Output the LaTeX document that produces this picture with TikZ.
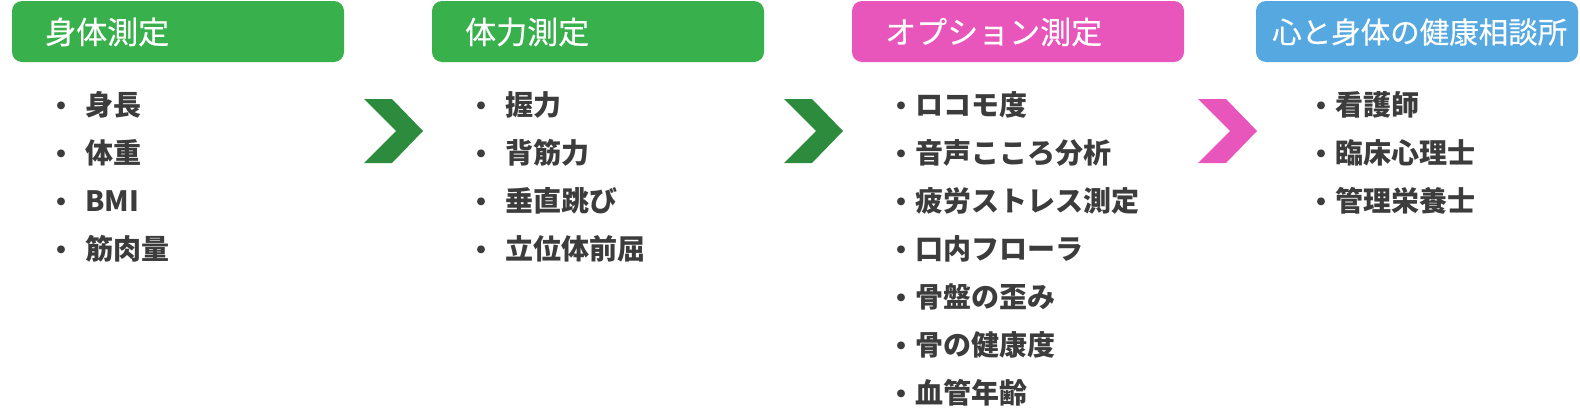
\documentclass[tikz,border=0pt]{standalone}
\usepackage{fontspec}
\setmainfont{Noto Sans CJK JP}
\newfontfamily\hdfont{Noto Sans CJK JP}[FakeBold=0.4]
\usetikzlibrary{positioning}
\definecolor{hdgreen}{RGB}{56,176,76}
\definecolor{chgreen}{RGB}{45,139,61}
\definecolor{hdpink}{RGB}{232,86,188}
\definecolor{hdblue}{RGB}{86,169,224}
\definecolor{txt}{RGB}{60,60,60}
\tikzset{
  hdtext/.style={text=white, inner sep=0pt, anchor=west, font=\hdfont\fontsize{31}{34}\selectfont},
  item/.style={text=txt, inner sep=0pt, anchor=west, font=\fontsize{28}{30}\selectfont\bfseries},
  dot/.style={text=txt, inner sep=0pt, anchor=center, font=\fontsize{28}{30}\selectfont\bfseries},
}
\begin{document}
\begin{tikzpicture}[x=1pt,y=-1pt]
\useasboundingbox (0,0) rectangle (1580,410);
% header boxes
\fill[hdgreen, rounded corners=10pt] (12,1) rectangle (344,62);
\fill[hdgreen, rounded corners=10pt] (432,1) rectangle (764,62);
\fill[hdpink, rounded corners=10pt] (852,1) rectangle (1184,62);
\fill[hdblue, rounded corners=10pt] (1256,1) rectangle (1578,62);
\node[hdtext] (h1) at (45,32) {身体測定};
\node[hdtext] (h2) at (465,32) {体力測定};
\node[hdtext] (h3) at (885,32) {オプション測定};
\node[hdtext, font=\hdfont\fontsize{29.5}{32}\selectfont] (h4) at (1272,32) {心と身体の健康相談所};
% chevrons
\fill[chgreen] (364,99) -- (392,99) -- (423,131) -- (392,163) -- (364,163) -- (396,131) -- cycle;
\fill[chgreen] (784,99) -- (812,99) -- (843,131) -- (812,163) -- (784,163) -- (816,131) -- cycle;
\fill[hdpink] (1198,99) -- (1226,99) -- (1257,131) -- (1226,163) -- (1198,163) -- (1230,131) -- cycle;
% column 1
\foreach \t [count=\i] in {身長,体重,BMI,筋肉量}{
  \node[dot] (d1\i) at (61,{109+48*(\i-1)}) {・};
  \node[item] (a\i) at (85,{105+48*(\i-1)}) {\t};
}
% column 2
\foreach \t [count=\i] in {握力,背筋力,垂直跳び,立位体前屈}{
  \node[dot] (d2\i) at (481,{109+48*(\i-1)}) {・};
  \node[item] (b\i) at (505,{105+48*(\i-1)}) {\t};
}
% column 3
\foreach \t [count=\i] in {ロコモ度,音声こころ分析,疲労ストレス測定,口内フローラ,骨盤の歪み,骨の健康度,血管年齢}{
  \node[dot] (d3\i) at (901,{109+48*(\i-1)}) {・};
  \node[item] (c\i) at (915,{105+48*(\i-1)}) {\t};
}
% column 4
\foreach \t [count=\i] in {看護師,臨床心理士,管理栄養士}{
  \node[dot] (d4\i) at (1321,{109+48*(\i-1)}) {・};
  \node[item] (e\i) at (1335,{105+48*(\i-1)}) {\t};
}
\end{tikzpicture}
\end{document}
